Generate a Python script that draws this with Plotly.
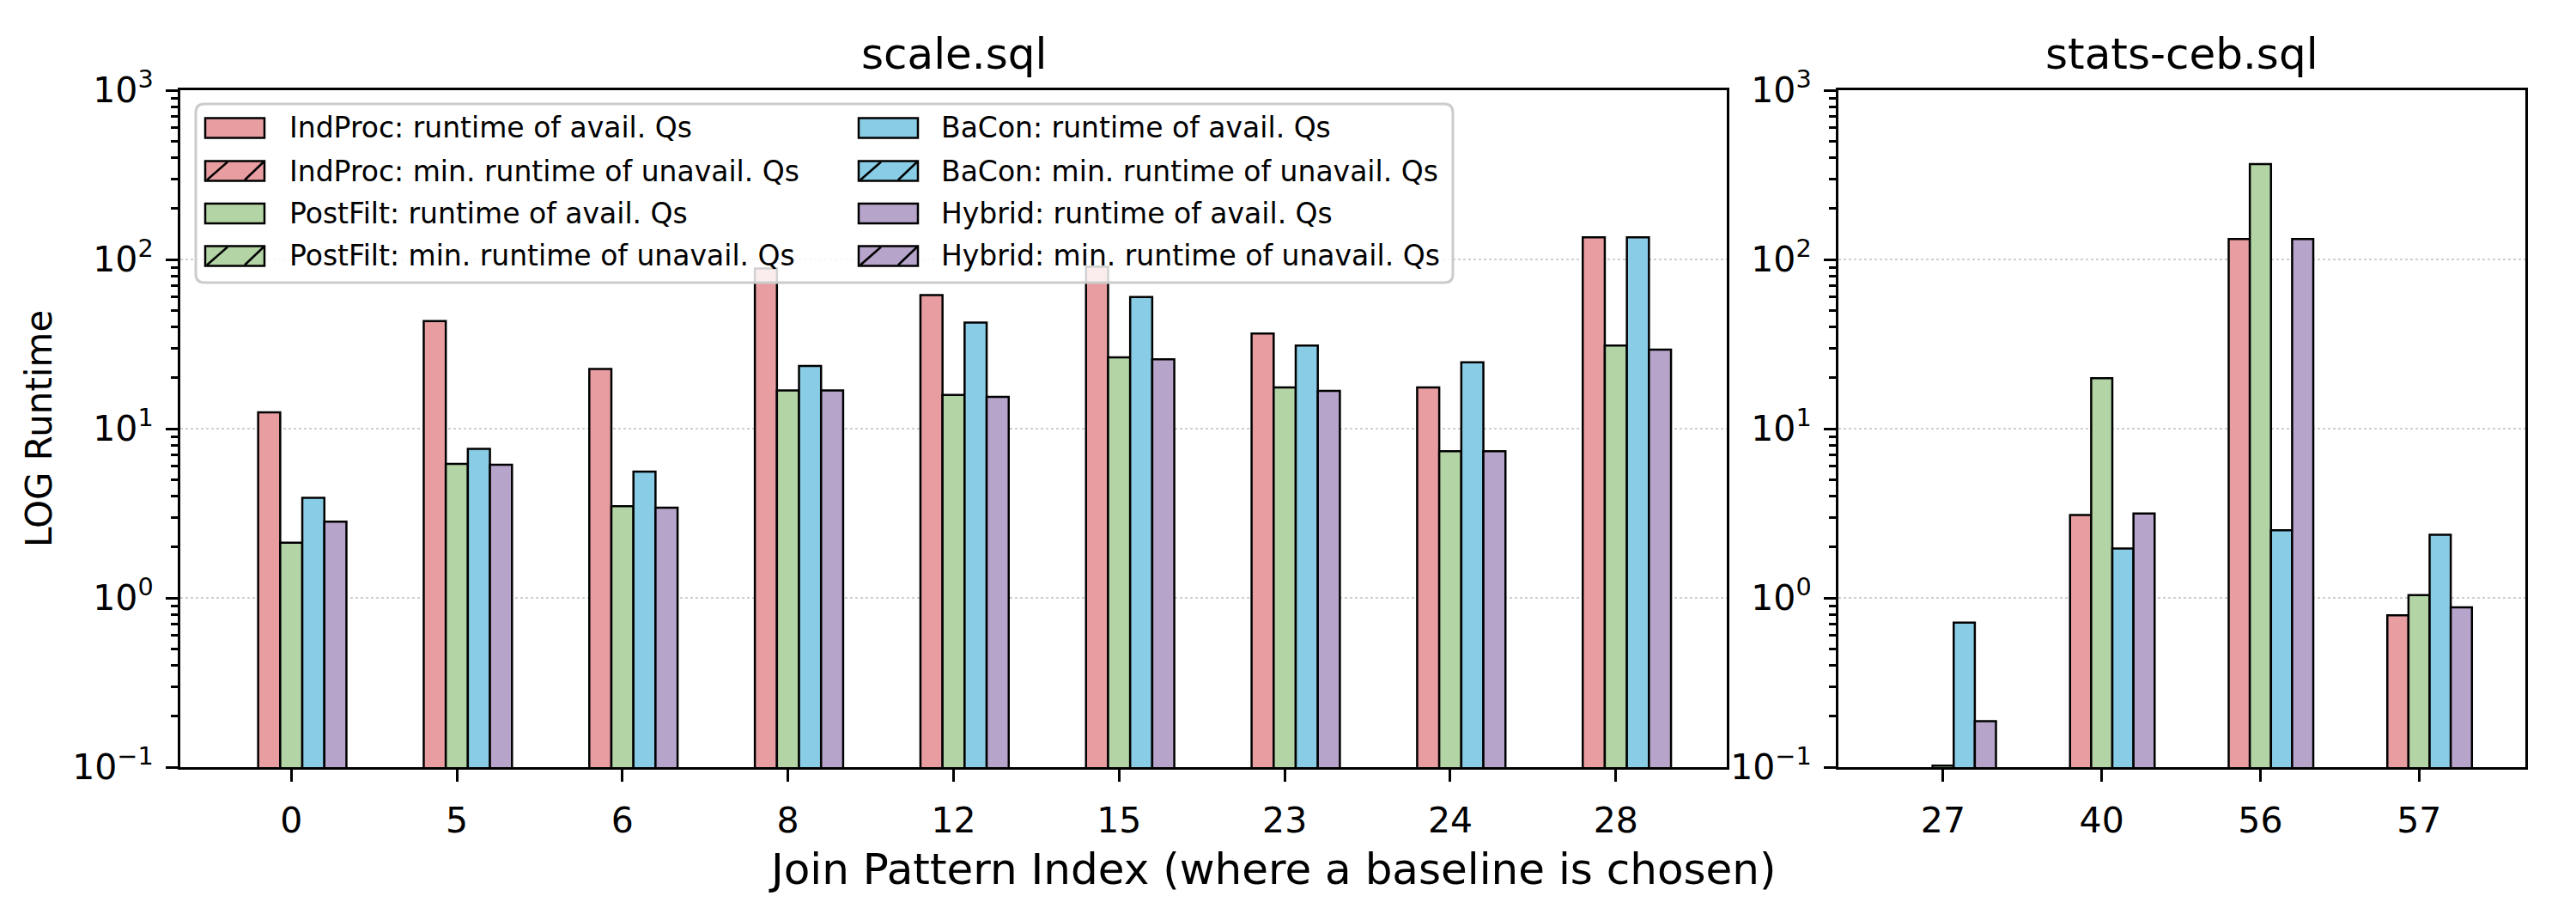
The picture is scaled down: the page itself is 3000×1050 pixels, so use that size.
import plotly.graph_objects as go

# ---------------- data ----------------
scale_categories = ["0", "5", "6", "8", "12", "15", "23", "24", "28"]
scale_indproc = [12.5, 43.2, 22.5, 88.5, 61.5, 90.5, 36.5, 17.5, 135.0]
scale_postfilt = [2.12, 6.2, 3.48, 16.8, 15.8, 26.4, 17.5, 7.35, 31.0]
scale_bacon = [3.9, 7.6, 5.57, 23.5, 42.3, 59.9, 31.0, 24.7, 135.0]
scale_hybrid = [2.82, 6.12, 3.41, 16.8, 15.4, 25.7, 16.7, 7.35, 29.3]

stats_categories = ["27", "40", "56", "57"]
stats_indproc = [None, 3.09, 132.0, 0.79]
stats_postfilt = [0.102, 19.9, 366.0, 1.04]
stats_bacon = [0.715, 1.96, 2.51, 2.36]
stats_hybrid = [0.187, 3.15, 132.0, 0.88]

# minimum runtime of unavailable queries (none shown in the chart)
scale_unavail = [None] * len(scale_categories)
stats_unavail = [None] * len(stats_categories)

methods = ["IndProc", "PostFilt", "BaCon", "Hybrid"]
colors = ["#E89DA0", "#B3D4A4", "#88CCE6", "#B7A4CB"]

ytick_vals = [0.1, 1, 10, 100, 1000]
ytick_text = ["10<sup>−1</sup>", "10<sup>0</sup>", "10<sup>1</sup>", "10<sup>2</sup>", "10<sup>3</sup>"]

# ---------------- figure ----------------
W, H = 3000, 1050
FONT = "DejaVu Sans"
bw = 0.1333
offsets = [-1.5 * bw, -0.5 * bw, 0.5 * bw, 1.5 * bw]

fig = go.Figure()

scale_series = [scale_indproc, scale_postfilt, scale_bacon, scale_hybrid]
stats_series = [stats_indproc, stats_postfilt, stats_bacon, stats_hybrid]

for i, m in enumerate(methods):
    for cats, vals, unav, xa, ya in [
        (scale_categories, scale_series[i], scale_unavail, "x", "y"),
        (stats_categories, stats_series[i], stats_unavail, "x2", "y2"),
    ]:
        fig.add_trace(go.Bar(
            x=cats, y=vals, xaxis=xa, yaxis=ya,
            name=f"{m}: runtime of avail. Qs",
            offset=offsets[i], width=bw,
            marker=dict(color=colors[i], line=dict(color="black", width=2.5)),
            showlegend=False,
        ))
        fig.add_trace(go.Bar(
            x=cats, y=unav, xaxis=xa, yaxis=ya,
            name=f"{m}: min. runtime of unavail. Qs",
            offset=offsets[i], width=bw,
            marker=dict(color=colors[i], line=dict(color="black", width=2.5),
                        pattern=dict(shape="/", fgcolor="black")),
            showlegend=False,
        ))

L_x0, L_x1 = 210, 2011
R_x0, R_x1 = 2141, 2941
T_y, B_y = 105, 893

def px(x):
    return x / W

def py(y):
    return 1 - y / H

axis_common = dict(
    showline=True, linecolor="black", linewidth=3.3, mirror=True,
    ticks="outside", ticklen=14, tickwidth=3.3, tickcolor="black",
    tickfont=dict(family=FONT, size=41, color="black"),
    automargin=False,
)
yaxis_common = dict(
    axis_common,
    type="log", range=[-1, 3],
    tickvals=ytick_vals, ticktext=ytick_text,
    showgrid=True, gridcolor="#cfcfcf", gridwidth=2, griddash="dot",
    minor=dict(ticks="outside", ticklen=8, tickwidth=2.5, tickcolor="black",
               showgrid=False, dtick="D1"),
    zeroline=False, ticklabelstandoff=6,
)

fig.update_layout(
    width=W, height=H,
    margin=dict(l=0, r=0, t=0, b=0, autoexpand=False),
    paper_bgcolor="white", plot_bgcolor="white",
    barmode="overlay",
    font=dict(family=FONT, color="black"),
    showlegend=False,
    xaxis=dict(axis_common, domain=[px(L_x0), px(L_x1)], type="category",
               range=[-0.67, 8.67], showgrid=False, anchor="y", ticklabelstandoff=10),
    yaxis=dict(yaxis_common, domain=[py(B_y), py(T_y)], anchor="x"),
    xaxis2=dict(axis_common, domain=[px(R_x0), px(R_x1)], type="category",
                range=[-0.66, 3.67], showgrid=False, anchor="y2", ticklabelstandoff=10),
    yaxis2=dict(yaxis_common, domain=[py(B_y), py(T_y)], anchor="x2"),
)

annotations = [
    dict(text="scale.sql", x=px((L_x0 + L_x1) / 2), y=py(63), xref="paper", yref="paper",
         showarrow=False, font=dict(size=50, family=FONT), xanchor="center", yanchor="middle"),
    dict(text="stats-ceb.sql", x=px((R_x0 + R_x1) / 2), y=py(63), xref="paper", yref="paper",
         showarrow=False, font=dict(size=50, family=FONT), xanchor="center", yanchor="middle"),
    dict(text="Join Pattern Index (where a baseline is chosen)", x=px(1482), y=py(1012),
         xref="paper", yref="paper", showarrow=False, font=dict(size=50, family=FONT),
         xanchor="center", yanchor="middle"),
    dict(text="LOG Runtime", x=px(45), y=py((T_y + B_y) / 2), xref="paper", yref="paper",
         showarrow=False, textangle=-90, font=dict(size=42, family=FONT),
         xanchor="center", yanchor="middle"),
]

shapes = []
# legend frame (rounded rectangle)
lx0, lx1, ly0, ly1, r = 228, 1692, 121, 329, 10
path = (f"M {px(lx0 + r)},{py(ly0)} L {px(lx1 - r)},{py(ly0)} "
        f"Q {px(lx1)},{py(ly0)} {px(lx1)},{py(ly0 + r)} "
        f"L {px(lx1)},{py(ly1 - r)} Q {px(lx1)},{py(ly1)} {px(lx1 - r)},{py(ly1)} "
        f"L {px(lx0 + r)},{py(ly1)} Q {px(lx0)},{py(ly1)} {px(lx0)},{py(ly1 - r)} "
        f"L {px(lx0)},{py(ly0 + r)} Q {px(lx0)},{py(ly0)} {px(lx0 + r)},{py(ly0)} Z")
shapes.append(dict(type="path", path=path, xref="paper", yref="paper",
                   fillcolor="rgba(255,255,255,0.82)", line=dict(color="#cccccc", width=3),
                   layer="above"))

legend_labels = []
for i, m in enumerate(methods):
    legend_labels.append((f"{m}: runtime of avail. Qs", colors[i], False))
    legend_labels.append((f"{m}: min. runtime of unavail. Qs", colors[i], True))

row_y = [149, 199, 248.5, 298]
col_patch_x = [239, 1000]
col_text_x = [335, 1094]
pw, ph = 69, 23
for k, (label, col, hatched) in enumerate(legend_labels):
    c, rr = divmod(k, 4)
    x0 = col_patch_x[c]
    yc = row_y[rr]
    y0, y1 = yc - ph / 2, yc + ph / 2
    shapes.append(dict(type="rect", xref="paper", yref="paper",
                       x0=px(x0), x1=px(x0 + pw), y0=py(y1), y1=py(y0),
                       fillcolor=col, line=dict(color="black", width=2.5), layer="above"))
    if hatched:
        for (ax, bx) in [(x0 + 2, x0 + 26), (x0 + 46, x0 + 68)]:
            shapes.append(dict(type="line", xref="paper", yref="paper",
                               x0=px(ax), y0=py(y1 - 1), x1=px(bx), y1=py(y0 + 1),
                               line=dict(color="black", width=2.5), layer="above"))
    annotations.append(dict(text=label, x=px(col_text_x[c]), y=py(yc), xref="paper", yref="paper",
                            showarrow=False, xanchor="left", yanchor="middle",
                            font=dict(size=33, family=FONT)))

fig.update_layout(annotations=annotations, shapes=shapes)

fig.write_html("out.html")
